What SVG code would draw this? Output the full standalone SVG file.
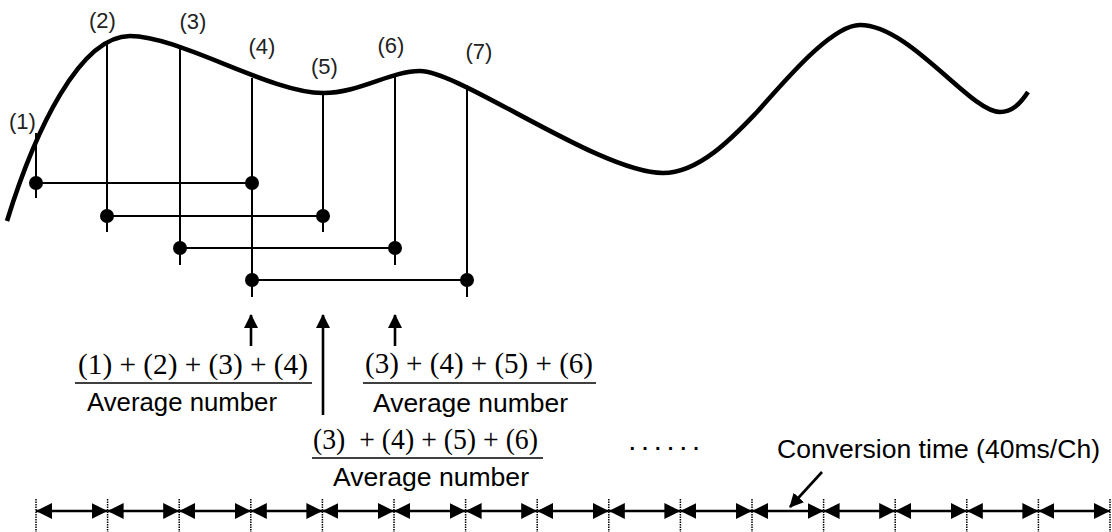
<svg xmlns="http://www.w3.org/2000/svg" width="1112" height="532" viewBox="0 0 1112 532">
<style>
.sans{font-family:"Liberation Sans",Arial,sans-serif;fill:#000}
.serif{font-family:"Liberation Serif","Times New Roman",serif;fill:#000}
.lbl{font-size:22px;text-anchor:middle;fill:#222}
.ln{stroke:#000;stroke-width:2;fill:none}
.thin{stroke:#000;stroke-width:1.3;fill:none}
.tick{stroke:#000;stroke-width:1.5;stroke-dasharray:1.5 1;fill:none}
.dot{fill:#000}
.arr{stroke:#000;stroke-width:2.6;fill:none}
.tl{stroke:#000;stroke-width:2.4;fill:none;marker-start:url(#ah);marker-end:url(#ah)}
</style>
<defs>
<marker id="ah" viewBox="0 0 16 16" refX="16" refY="8" markerWidth="16" markerHeight="16" markerUnits="userSpaceOnUse" orient="auto-start-reverse">
<path d="M0,0 L16,8 L0,16 z" fill="#000"/>
</marker>
<marker id="up" viewBox="0 0 14 14" refX="13" refY="7" markerWidth="14" markerHeight="14" markerUnits="userSpaceOnUse" orient="auto">
<path d="M0,0 L14,7 L0,14 z" fill="#000"/>
</marker>
</defs>
<rect width="1112" height="532" fill="#fff"/>

<g id="signal-curve">
<path d="M7,221 C35,130 80,36 130,36 C180,36 270,93 323,93 C360,93 390,71 420,71 C460,71 600,173 663,173 C700,173 735,135 757,112 C780,87 830,25 860,25 C910,25 970,112 1000,112 C1012,112 1020,104 1028,92" stroke="#000" stroke-width="4.6" fill="none"/>
</g>

<g id="sample-1"><text class="sans lbl" x="22.5" y="129">(1)</text><line class="ln" x1="36" y1="133" x2="36" y2="198"/></g>
<g id="sample-2"><text class="sans lbl" x="102.5" y="28">(2)</text><line class="ln" x1="107" y1="42" x2="107" y2="232"/></g>
<g id="sample-3"><text class="sans lbl" x="193" y="29">(3)</text><line class="ln" x1="180" y1="49" x2="180" y2="265"/></g>
<g id="sample-4"><text class="sans lbl" x="262" y="54">(4)</text><line class="ln" x1="252" y1="78" x2="252" y2="297"/></g>
<g id="sample-5"><text class="sans lbl" x="324.5" y="74">(5)</text><line class="ln" x1="323" y1="93" x2="323" y2="232"/></g>
<g id="sample-6"><text class="sans lbl" x="391" y="53">(6)</text><line class="ln" x1="395" y1="77" x2="395" y2="265"/></g>
<g id="sample-7"><text class="sans lbl" x="479" y="59">(7)</text><line class="ln" x1="467" y1="85" x2="467" y2="297"/></g>

<g id="avg-window-1"><line class="ln" x1="36" y1="183" x2="252" y2="183"/><circle class="dot" cx="36" cy="183" r="7"/><circle class="dot" cx="252" cy="183" r="7"/></g>
<g id="avg-window-2"><line class="ln" x1="107" y1="216" x2="323" y2="216"/><circle class="dot" cx="107" cy="216" r="7"/><circle class="dot" cx="323" cy="216" r="7"/></g>
<g id="avg-window-3"><line class="ln" x1="180" y1="248" x2="395" y2="248"/><circle class="dot" cx="180" cy="248" r="7"/><circle class="dot" cx="395" cy="248" r="7"/></g>
<g id="avg-window-4"><line class="ln" x1="252" y1="280" x2="467" y2="280"/><circle class="dot" cx="252" cy="280" r="7"/><circle class="dot" cx="467" cy="280" r="7"/></g>

<g id="formula-1">
<text class="serif" x="78" y="374" font-size="29" textLength="230" lengthAdjust="spacingAndGlyphs">(1) + (2) + (3) + (4)</text>
<line class="thin" x1="75" y1="383" x2="312" y2="383"/>
<text class="sans" x="87" y="411" font-size="25" textLength="190" lengthAdjust="spacingAndGlyphs">Average number</text>
</g>
<g id="formula-2">
<text class="serif" x="365" y="373" font-size="29" textLength="228" lengthAdjust="spacingAndGlyphs">(3) + (4) + (5) + (6)</text>
<line class="thin" x1="363" y1="383" x2="596" y2="383"/>
<text class="sans" x="373" y="412" font-size="25" textLength="195" lengthAdjust="spacingAndGlyphs">Average number</text>
</g>
<g id="formula-3">
<text class="serif" x="313" y="449" font-size="29" textLength="225" lengthAdjust="spacingAndGlyphs" style="white-space:pre">(3)  + (4) + (5) + (6)</text>
<line class="thin" x1="312" y1="458" x2="543" y2="458"/>
<text class="sans" x="333" y="486" font-size="25" textLength="196" lengthAdjust="spacingAndGlyphs">Average number</text>
</g>

<g id="ellipsis"><text class="sans" x="629.5" y="450" font-size="20" font-weight="bold" letter-spacing="7.2">......</text></g>
<g id="conversion-label"><text class="sans" x="777" y="458" font-size="26" textLength="323" lengthAdjust="spacingAndGlyphs">Conversion time (40ms/Ch)</text></g>

<g id="timeline-ticks">
<line class="tick" x1="36" y1="499" x2="36" y2="532"/>
<line class="tick" x1="107.6" y1="499" x2="107.6" y2="532"/>
<line class="tick" x1="179.2" y1="499" x2="179.2" y2="532"/>
<line class="tick" x1="250.8" y1="499" x2="250.8" y2="532"/>
<line class="tick" x1="322.4" y1="499" x2="322.4" y2="532"/>
<line class="tick" x1="394" y1="499" x2="394" y2="532"/>
<line class="tick" x1="465.6" y1="499" x2="465.6" y2="532"/>
<line class="tick" x1="537.2" y1="499" x2="537.2" y2="532"/>
<line class="tick" x1="608.8" y1="499" x2="608.8" y2="532"/>
<line class="tick" x1="680.4" y1="499" x2="680.4" y2="532"/>
<line class="tick" x1="752" y1="499" x2="752" y2="532"/>
<line class="tick" x1="823.6" y1="499" x2="823.6" y2="532"/>
<line class="tick" x1="895.2" y1="499" x2="895.2" y2="532"/>
<line class="tick" x1="966.8" y1="499" x2="966.8" y2="532"/>
<line class="tick" x1="1038.4" y1="499" x2="1038.4" y2="532"/>
<line class="tick" x1="1110" y1="499" x2="1110" y2="532"/>
</g>

<g id="connectors">
<line class="arr" x1="251" y1="346" x2="251" y2="315" marker-end="url(#up)"/>
<line class="arr" x1="323" y1="415" x2="323" y2="315" marker-end="url(#up)"/>
<line class="arr" x1="395" y1="346" x2="395" y2="315" marker-end="url(#up)"/>
<line class="arr" x1="822" y1="472" x2="790" y2="507" marker-end="url(#up)"/>
<line class="tl" x1="36" y1="511" x2="107.6" y2="511"/>
<line class="tl" x1="107.6" y1="511" x2="179.2" y2="511"/>
<line class="tl" x1="179.2" y1="511" x2="250.8" y2="511"/>
<line class="tl" x1="250.8" y1="511" x2="322.4" y2="511"/>
<line class="tl" x1="322.4" y1="511" x2="394" y2="511"/>
<line class="tl" x1="394" y1="511" x2="465.6" y2="511"/>
<line class="tl" x1="465.6" y1="511" x2="537.2" y2="511"/>
<line class="tl" x1="537.2" y1="511" x2="608.8" y2="511"/>
<line class="tl" x1="608.8" y1="511" x2="680.4" y2="511"/>
<line class="tl" x1="680.4" y1="511" x2="752" y2="511"/>
<line class="tl" x1="752" y1="511" x2="823.6" y2="511"/>
<line class="tl" x1="823.6" y1="511" x2="895.2" y2="511"/>
<line class="tl" x1="895.2" y1="511" x2="966.8" y2="511"/>
<line class="tl" x1="966.8" y1="511" x2="1038.4" y2="511"/>
<line class="tl" x1="1038.4" y1="511" x2="1110" y2="511"/>
</g>
</svg>
